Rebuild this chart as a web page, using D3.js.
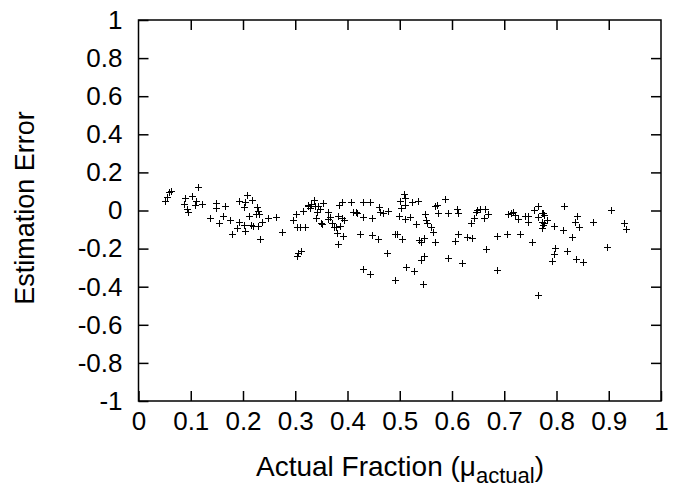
<!DOCTYPE html>
<html>
<head>
<meta charset="utf-8">
<script src="https://cdn.jsdelivr.net/npm/d3@7"></script>
<style>
  body { margin: 0; background: #fff; }
  svg text { font-family: "Liberation Sans", Arial, sans-serif; fill: #000; }
</style>
</head>
<body>
<div id="cont"></div>
<script>

// values
var actualFrac = [
  0.051, 0.054, 0.059, 0.062, 0.089, 0.102, 0.113, 0.088, 0.092, 0.095,
  0.111, 0.109, 0.121, 0.148, 0.148, 0.166, 0.137, 0.155, 0.161, 0.175,
  0.178, 0.188, 0.193, 0.204, 0.202, 0.193, 0.207, 0.204, 0.202, 0.218,
  0.211, 0.215, 0.219, 0.226, 0.229, 0.225, 0.231, 0.229, 0.237, 0.233,
  0.248, 0.263, 0.275, 0.296, 0.301, 0.303, 0.309, 0.319, 0.315, 0.324,
  0.303, 0.306, 0.311, 0.325, 0.331, 0.336, 0.328, 0.338, 0.343, 0.348,
  0.341, 0.354, 0.340, 0.349, 0.351, 0.362, 0.367, 0.363, 0.371, 0.375,
  0.378, 0.382, 0.384, 0.389, 0.386, 0.389, 0.394, 0.379, 0.392, 0.382,
  0.406, 0.411, 0.416, 0.419, 0.429, 0.443, 0.430, 0.446, 0.424, 0.446,
  0.459, 0.460, 0.462, 0.467, 0.477, 0.476, 0.429, 0.443, 0.490, 0.500,
  0.508, 0.511, 0.510, 0.502, 0.523, 0.534, 0.498, 0.510, 0.520, 0.490,
  0.494, 0.504, 0.512, 0.528, 0.544, 0.532, 0.548, 0.551, 0.553, 0.559,
  0.564, 0.537, 0.540, 0.547, 0.567, 0.546, 0.540, 0.567, 0.571, 0.574,
  0.587, 0.593, 0.609, 0.612, 0.606, 0.612, 0.593, 0.620, 0.628, 0.638,
  0.636, 0.642, 0.645, 0.647, 0.654, 0.663, 0.661, 0.668, 0.666, 0.686,
  0.687, 0.705, 0.708, 0.713, 0.717, 0.721, 0.727, 0.731, 0.740, 0.746,
  0.746, 0.753, 0.757, 0.765, 0.765, 0.764, 0.772, 0.775, 0.776, 0.772,
  0.776, 0.774, 0.772, 0.782, 0.795, 0.797, 0.795, 0.791, 0.812, 0.814,
  0.820, 0.830, 0.836, 0.840, 0.844, 0.837, 0.851, 0.870, 0.896, 0.904,
  0.929, 0.933
];

var estError = [
  0.050, 0.069, 0.095, 0.104, 0.064, 0.076, 0.122, 0.034, 0.006, -0.009,
  0.050, 0.029, 0.033, 0.038, 0.012, 0.024, -0.041, -0.067, -0.029, -0.050,
  -0.125, -0.090, -0.062, -0.106, -0.076, 0.051, 0.080, 0.043, 0.017, 0.055,
  -0.027, -0.076, -0.081, 0.020, -0.001, -0.020, -0.020, -0.081, -0.059, -0.150,
  -0.041, -0.032, -0.113, -0.050, -0.020, -0.085, -0.088, -0.085, -0.001, 0.025,
  -0.239, -0.225, -0.213, 0.029, 0.033, 0.055, 0.012, 0.024, 0.024, 0.006,
  -0.009, 0.041, -0.041, -0.064, -0.071, -0.006, -0.032, -0.046, -0.067, -0.085,
  -0.088, -0.027, 0.029, 0.046, -0.081, -0.041, -0.050, -0.120, -0.132, -0.177,
  0.046, -0.006, -0.006, -0.011, 0.043, 0.043, -0.032, -0.038, -0.125, -0.129,
  -0.150, 0.020, -0.006, -0.015, -0.001, -0.221, -0.307, -0.335, -0.365, 0.050,
  0.087, 0.064, 0.029, 0.012, 0.046, 0.050, -0.029, -0.046, -0.032, -0.125,
  -0.125, -0.151, -0.295, -0.318, -0.386, -0.071, -0.018, -0.050, -0.064, -0.085,
  -0.111, -0.155, -0.167, -0.146, -0.167, -0.239, -0.260, 0.024, 0.029, -0.011,
  0.059, -0.015, 0.008, -0.015, -0.160, -0.123, -0.251, -0.274, -0.138, -0.146,
  -0.067, -0.038, -0.006, 0.003, 0.006, 0.008, -0.038, -0.020, -0.204, -0.313,
  -0.134, -0.123, -0.018, -0.015, -0.006, -0.024, -0.046, -0.125, -0.029, -0.029,
  -0.059, -0.167, 0.003, 0.025, -0.444, -0.032, -0.011, -0.015, -0.024, -0.059,
  -0.067, -0.076, -0.094, -0.050, -0.081, -0.195, -0.228, -0.263, -0.102, 0.025,
  -0.211, -0.141, -0.062, -0.027, -0.088, -0.255, -0.272, -0.059, -0.193, 0.003,
  -0.064, -0.099
];

var xTicks = [0, 0.1, 0.2, 0.3, 0.4, 0.5, 0.6, 0.7, 0.8, 0.9, 1];
var yTicks = [-1, -0.8, -0.6, -0.4, -0.2, 0, 0.2, 0.4, 0.6, 0.8, 1];

var W = 687, H = 489;
var mLeft = 138.5, mRight = 661, mTop = 20, mBottom = 401;
var tickLen = 10;
var fontSize = 26;

var svg = d3.select("#cont").append("svg")
  .attr("width", W)
  .attr("height", H);

var xScale = d3.scaleLinear().domain([0, 1]).range([mLeft, mRight]),
  yScale = d3.scaleLinear().domain([-1, 1]).range([mBottom, mTop]);

var fmt = function(d) { return String(d); };

// bottom / top ticks (inward)
svg.append("g")
  .attr("transform", "translate(0," + mBottom + ")")
  .call(d3.axisBottom(xScale).tickValues(xTicks).tickFormat(fmt)
    .tickSizeInner(-tickLen).tickSizeOuter(0).tickPadding(11))
  .call(function(g) { g.select(".domain").remove(); });

svg.append("g")
  .attr("transform", "translate(0," + mTop + ")")
  .call(d3.axisTop(xScale).tickValues(xTicks.slice(1, -1)).tickFormat("")
    .tickSizeInner(-tickLen).tickSizeOuter(0))
  .call(function(g) { g.select(".domain").remove(); });

svg.append("g")
  .attr("transform", "translate(" + mLeft + ",0)")
  .call(d3.axisLeft(yScale).tickValues(yTicks).tickFormat(fmt)
    .tickSizeInner(-tickLen).tickSizeOuter(0).tickPadding(16))
  .call(function(g) { g.select(".domain").remove(); });

svg.append("g")
  .attr("transform", "translate(" + mRight + ",0)")
  .call(d3.axisRight(yScale).tickValues(yTicks.slice(1, -1)).tickFormat("")
    .tickSizeInner(-tickLen).tickSizeOuter(0))
  .call(function(g) { g.select(".domain").remove(); });

svg.selectAll(".tick line")
  .attr("stroke", "#000")
  .attr("stroke-width", 1.5);

svg.selectAll(".tick text")
  .style("font-size", fontSize + "px")
  .style("font-family", "'Liberation Sans', Arial, sans-serif");

// frame
svg.append("rect")
  .attr("x", mLeft)
  .attr("y", mTop)
  .attr("width", mRight - mLeft)
  .attr("height", mBottom - mTop)
  .attr("fill", "none")
  .attr("stroke", "#000")
  .attr("stroke-width", 1.5);

// points, drawn as "+"
var s = 3.5;
svg.append("g")
  .selectAll("path")
  .data(actualFrac.map(function(d, i) { return [d, estError[i]]; }))
  .enter().append("path")
  .attr("d", function(d) {
    var x = Math.round(xScale(d[0])) + 0.5, y = Math.round(yScale(d[1])) + 0.5;
    return "M" + (x - s) + "," + y + "H" + (x + s) + "M" + x + "," + (y - s) + "V" + (y + s);
  })
  .attr("stroke", "#000")
  .attr("stroke-width", 1)
  .attr("fill", "none");

// axis titles
var xt = svg.append("text")
  .attr("x", 400)
  .attr("y", 476)
  .attr("text-anchor", "middle")
  .style("font-size", "28px");
xt.append("tspan").text("Actual Fraction (\u03bc");
xt.append("tspan").attr("dy", 7).style("font-size", "22px").text("actual");
xt.append("tspan").attr("dy", -7).text(")");

svg.append("text")
  .attr("transform", "translate(34,208) rotate(-90)")
  .attr("text-anchor", "middle")
  .style("font-size", "27px")
  .text("Estimation Error");

</script>
</body>
</html>
